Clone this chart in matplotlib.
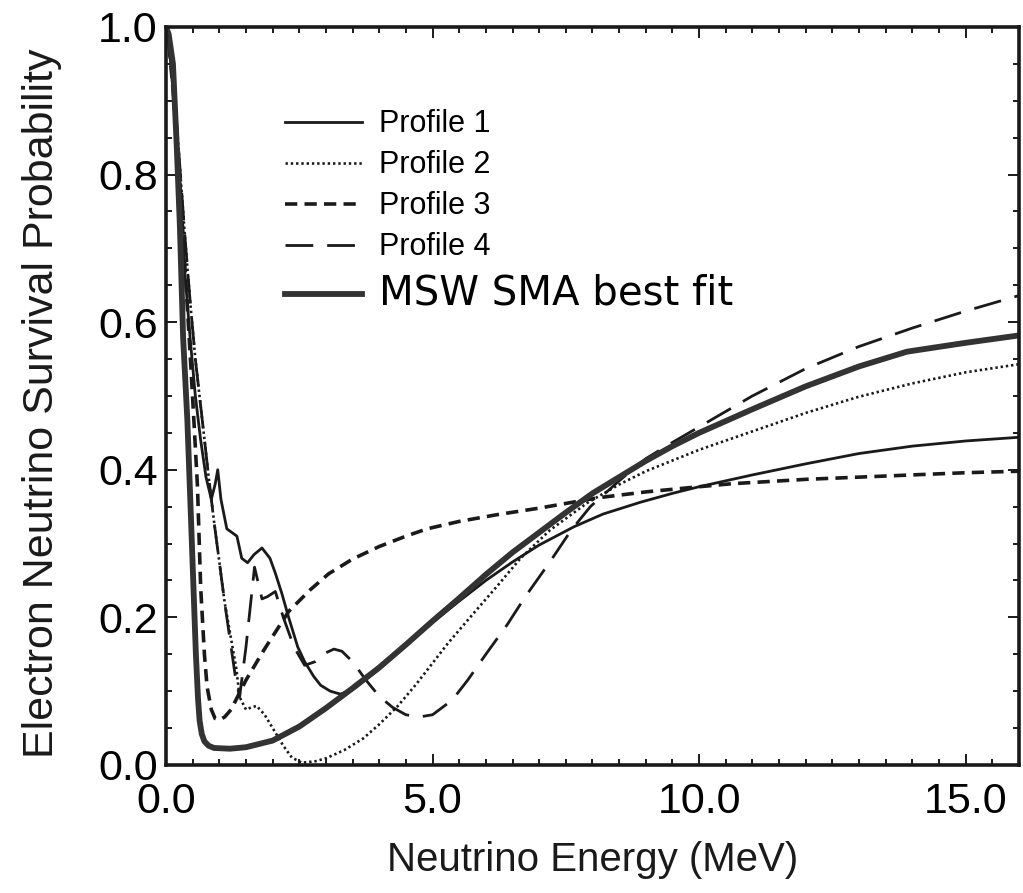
import matplotlib
matplotlib.use("Agg")
import matplotlib.pyplot as plt
from matplotlib.ticker import MultipleLocator, FixedLocator

# ---------------- data ----------------
msw_E = [0, 0.05, 0.13, 0.2, 0.26, 0.32, 0.4, 0.47, 0.52, 0.56, 0.6, 0.63, 0.67, 0.72, 0.8,
         0.9, 1.2, 1.5, 2.0, 2.5, 3.0, 3.5, 4.0, 4.5, 5.0, 5.5, 6.0, 6.5, 7.0, 7.5, 8.0, 8.5,
         9.0, 9.5, 10, 11, 12, 13, 13.9, 15, 16]
msw_P = [1.0, 0.99, 0.95, 0.84, 0.73, 0.58, 0.467, 0.33, 0.23, 0.15, 0.09, 0.06, 0.042, 0.032,
         0.026, 0.023, 0.022, 0.024, 0.033, 0.052, 0.077, 0.104, 0.132, 0.163, 0.195, 0.226,
         0.258, 0.288, 0.315, 0.342, 0.368, 0.39, 0.412, 0.432, 0.45, 0.482, 0.513, 0.54, 0.56,
         0.572, 0.582]

p1_E = [0, 0.05, 0.15, 0.25, 0.35, 0.45, 0.55, 0.65, 0.75, 0.85, 0.92, 0.97, 1.03, 1.14, 1.33,
        1.42, 1.53, 1.65, 1.8, 1.95, 2.05, 2.17, 2.3, 2.47, 2.6, 2.77, 2.9, 3.08, 3.27, 3.5,
        4.0, 4.5, 5.0, 5.5, 6.0, 6.5, 7.0, 7.66, 8.2, 8.9, 9.5, 10, 11, 12, 13, 14, 15, 16]
p1_P = [1.0, 0.98, 0.9, 0.78, 0.67, 0.58, 0.5, 0.44, 0.39, 0.36, 0.38, 0.40, 0.36, 0.32, 0.31,
        0.28, 0.274, 0.285, 0.294, 0.28, 0.26, 0.233, 0.2, 0.16, 0.14, 0.12, 0.108, 0.1, 0.096,
        0.102, 0.13, 0.162, 0.193, 0.222, 0.25, 0.275, 0.298, 0.323, 0.34, 0.356, 0.368, 0.377,
        0.393, 0.408, 0.422, 0.432, 0.439, 0.444]

p2_E = [0, 0.05, 0.15, 0.25, 0.35, 0.45, 0.55, 0.68, 0.8, 0.9, 1.1, 1.32, 1.38, 1.5, 1.6, 1.7,
        1.85, 2.0, 2.2, 2.36, 2.55, 2.8, 3.0, 3.34, 3.7, 4.0, 4.35, 4.7, 5.29, 5.8, 6.22, 6.65,
        7.2, 7.9, 8.5, 9, 10, 11, 12, 13, 14, 15, 16]
p2_P = [1.0, 0.98, 0.92, 0.82, 0.72, 0.63, 0.55, 0.467, 0.39, 0.33, 0.22, 0.13, 0.092, 0.075,
        0.078, 0.08, 0.068, 0.05, 0.026, 0.01, 0.003, 0.005, 0.009, 0.02, 0.036, 0.055, 0.08,
        0.11, 0.165, 0.208, 0.243, 0.28, 0.318, 0.355, 0.38, 0.398, 0.427, 0.452, 0.477, 0.499,
        0.517, 0.532, 0.543]

p3_E = [0, 0.05, 0.15, 0.25, 0.35, 0.45, 0.52, 0.59, 0.65, 0.72, 0.77, 0.85, 0.92, 1.0, 1.1,
        1.22, 1.5, 1.83, 2.3, 2.7, 3.05, 3.5, 4.0, 4.5, 4.9, 5.5, 6.2, 7.0, 8.1, 9.0, 10.0,
        10.6, 12, 13, 14, 15, 16]
p3_P = [1.0, 0.98, 0.9, 0.8, 0.68, 0.56, 0.47, 0.377, 0.24, 0.15, 0.106, 0.075, 0.063, 0.061,
        0.065, 0.075, 0.115, 0.155, 0.208, 0.237, 0.259, 0.279, 0.296, 0.31, 0.32, 0.33,
        0.339, 0.348, 0.362, 0.37, 0.377, 0.381, 0.387, 0.39, 0.393, 0.396, 0.398]

p4_E = [0, 0.05, 0.15, 0.25, 0.35, 0.45, 0.55, 0.68, 0.8, 0.9, 1.1, 1.3, 1.38, 1.5, 1.66, 1.8,
        1.9, 2.05, 2.2, 2.4, 2.6, 2.8, 3.0, 3.15, 3.3, 3.5, 3.75, 4.0, 4.25, 4.5, 4.75, 5.0,
        5.37, 5.66, 6.0, 6.4, 6.74, 7.2, 7.6, 7.96, 8.5, 9, 9.5, 10, 11, 12, 13, 14, 15, 16]
p4_P = [1.0, 0.98, 0.92, 0.82, 0.72, 0.63, 0.55, 0.467, 0.39, 0.33, 0.22, 0.12, 0.092, 0.16,
        0.268, 0.225, 0.228, 0.235, 0.2, 0.16, 0.135, 0.14, 0.152, 0.157, 0.154, 0.14, 0.115,
        0.093, 0.078, 0.068, 0.065, 0.068, 0.088, 0.115, 0.15, 0.19, 0.228, 0.275, 0.318, 0.35,
        0.385, 0.415, 0.437, 0.458, 0.50, 0.537, 0.567, 0.592, 0.615, 0.636]

labels = ["Profile 1", "Profile 2", "Profile 3", "Profile 4", "MSW SMA best fit"]
x_ticks = [0, 5, 10, 15]
x_ticklabels = ["0.0", "5.0", "10.0", "15.0"]
y_ticks = [0.0, 0.2, 0.4, 0.6, 0.8, 1.0]
y_ticklabels = ["0.0", "0.2", "0.4", "0.6", "0.8", "1.0"]

# ---------------- figure ----------------
plt.rcParams['font.family'] = ['Liberation Sans', 'DejaVu Sans']
fig = plt.figure(figsize=(10.23, 8.93), dpi=100)
ax = fig.add_axes([0.1623, 0.1434, 0.8337, 0.8264])

ink = '#1a1a1a'
h1, = ax.plot(p1_E, p1_P, color=ink, lw=2.0, solid_joinstyle='round')
h2, = ax.plot(p2_E, p2_P, color=ink, lw=1.9, linestyle=(0, (0.9, 1.1)))
h3, = ax.plot(p3_E, p3_P, color=ink, lw=2.6, linestyle=(0, (3.4, 2.0)))
h4, = ax.plot(p4_E, p4_P, color=ink, lw=2.0, linestyle=(0, (10, 5)))
h5, = ax.plot(msw_E, msw_P, color='#333333', lw=4.2, solid_joinstyle='round')

ax.set_xlim(0, 16)
ax.set_ylim(0, 1.0)
ax.xaxis.set_major_locator(FixedLocator(x_ticks))
ax.set_xticklabels(x_ticklabels)
ax.yaxis.set_major_locator(FixedLocator(y_ticks))
ax.set_yticklabels(y_ticklabels)
ax.xaxis.set_minor_locator(MultipleLocator(0.5))
ax.yaxis.set_minor_locator(MultipleLocator(0.05))
ax.tick_params(which='both', direction='in', top=True, right=True, color=ink, width=1.4)
ax.tick_params(which='major', length=8)
ax.tick_params(which='minor', length=4.5)
ax.tick_params(axis='x', which='major', labelsize=31, pad=12)
ax.tick_params(axis='y', which='major', labelsize=31, pad=6)
for s in ax.spines.values():
    s.set_linewidth(2.6)
    s.set_color(ink)

ax.set_xlabel("Neutrino Energy (MeV)", fontsize=29, labelpad=14, color=ink)
ax.set_ylabel("Electron Neutrino Survival Probability", fontsize=31, color=ink)
ax.yaxis.set_label_coords(-0.122, 0.49)

leg = ax.legend([h1, h2, h3, h4, h5], labels, loc='upper left',
                bbox_to_anchor=(0.125, 0.905), frameon=False, fontsize=22,
                handlelength=2.52, handletextpad=0.55, labelspacing=0.36,
                borderaxespad=0.0)
t = leg.get_texts()[4]
t.set_fontsize(29)
t.set_family(['DejaVu Sans'])

fig.savefig("out.png", dpi=100)
